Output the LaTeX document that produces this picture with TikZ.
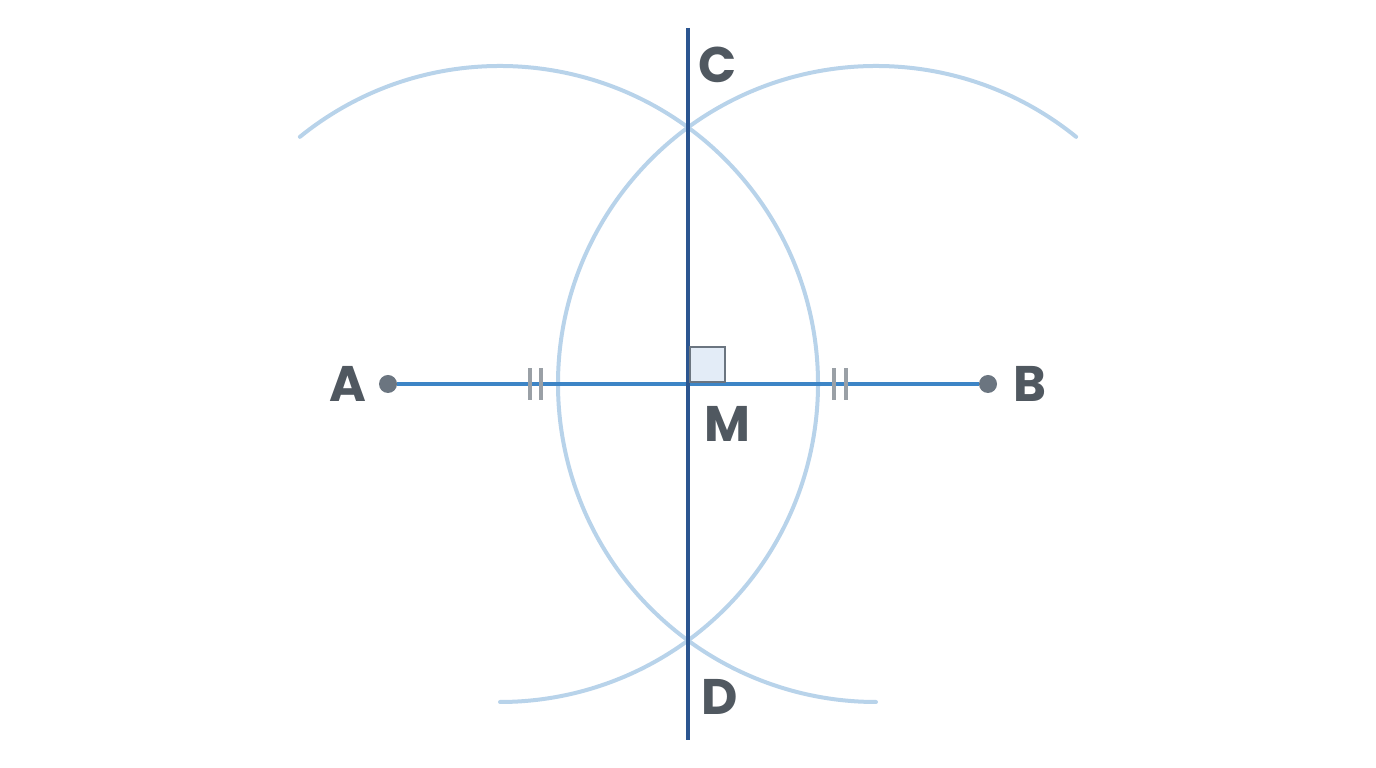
\documentclass[tikz,border=0pt]{standalone}
\usepackage{fontspec}
\setmainfont{Poppins}
\begin{document}
\definecolor{arc}{HTML}{B8D3EA}
\definecolor{seg}{HTML}{3D85C6}
\definecolor{perp}{HTML}{2B5590}
\definecolor{pt}{HTML}{6B7580}
\definecolor{lab}{HTML}{505860}
\definecolor{tick}{HTML}{9AA0A6}
\definecolor{sq}{HTML}{E3ECF7}
\begin{tikzpicture}[x=1pt,y=1pt,
  arcst/.style={arc,line width=4pt,line cap=round},
  lbl/.style={text=lab,font=\fontsize{50}{50}\selectfont\bfseries},
  tk/.style={tick,line width=3.5pt},
  dot/.style={circle,fill=pt,inner sep=0pt,minimum size=18pt}]
\useasboundingbox (0,0) rectangle (1376,768);
\draw[arcst] (500,384) ++(129:318) arc[start angle=129,end angle=-90,radius=318];
\draw[arcst] (876,384) ++(51:318) arc[start angle=51,end angle=270,radius=318];
\node[dot] (A) at (388,384) {};
\node[dot] (B) at (988,384) {};
\coordinate (M) at (688,384);
\coordinate (Ct) at (688,740);
\coordinate (Db) at (688,28);
\draw[seg,line width=4pt] (A) -- (B);
\draw[perp,line width=4pt] (Ct) -- (Db);
\draw[pt,fill=sq,line width=2.5pt] (690,386) rectangle (725,421);
\foreach \x in {530,541,834,846} \draw[tk] (\x,368) -- (\x,400);
\node[lbl] (la) at (348,384) {A};
\node[lbl] (lb) at (1030,384) {B};
\node[lbl] (lc) at (718,703) {C};
\node[lbl] (lm) at (727,344) {M};
\node[lbl] (ld) at (720,71) {D};
\end{tikzpicture}
\end{document}
